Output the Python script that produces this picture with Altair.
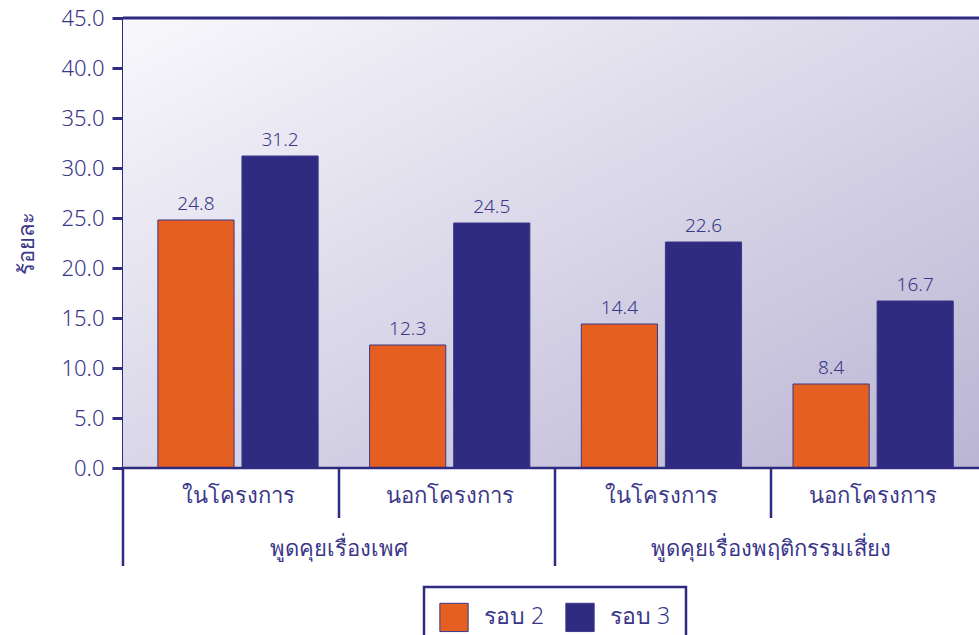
import altair as alt
import pandas as pd

# Survey: share of respondents (%) who talked about each topic, by round
groups = ["พูดคุยเรื่องเพศ", "พูดคุยเรื่องเพศ", "พูดคุยเรื่องพฤติกรรมเสี่ยง", "พูดคุยเรื่องพฤติกรรมเสี่ยง"]
subgroups = ["ในโครงการ", "นอกโครงการ", "ในโครงการ", "นอกโครงการ"]
round2 = [24.8, 12.3, 14.4, 8.4]
round3 = [31.2, 24.5, 22.6, 16.7]
rounds = ["รอบ 2", "รอบ 3"]

NAVY = "#2f2b81"
TEXT = "#3a3789"
ORANGE = "#e55f20"
FONT = "Noto Sans"
WEIGHT = 300
W, H = 856, 450

keys = [f"{g}|{s}" for g, s in zip(groups, subgroups)]
rows = []
for k, g, s, a, b in zip(keys, groups, subgroups, round2, round3):
    rows.append({"key": k, "group": g, "sub": s, "round": rounds[0], "value": a})
    rows.append({"key": k, "group": g, "sub": s, "round": rounds[1], "value": b})
bars_df = pd.DataFrame(rows)
cats_df = pd.DataFrame({"key": keys, "group": groups, "sub": subgroups,
                        "idx": list(range(len(keys)))})

# bar bands sit slightly right of the divider grid
bar_scale = alt.Scale(domain=keys, paddingInner=0, paddingOuter=0.0216, align=1)
bar_x = alt.X("key:N", scale=bar_scale, axis=None)
off_scale = alt.Scale(domain=rounds, paddingInner=0.094, paddingOuter=0.306)
div_scale = alt.Scale(domain=keys, paddingInner=0, paddingOuter=0, range=[0, 864])
y_scale = alt.Scale(domain=[0, 45], nice=False)

# gradient panel background
background = alt.Chart(alt.Data(values=[{}])).mark_rect(
    fill=alt.LinearGradient(
        gradient="linear", x1=0, y1=0, x2=1, y2=1,
        stops=[alt.GradientStop(offset=0, color="#f8f8fc"),
               alt.GradientStop(offset=1, color="#bab5d4")],
    )
).encode(x=alt.value(0), x2=alt.value(W), y=alt.value(0), y2=alt.value(H))

bars = alt.Chart(bars_df).mark_bar(stroke=TEXT, strokeWidth=1).encode(
    x=bar_x,
    xOffset=alt.XOffset("round:N", scale=off_scale),
    y=alt.Y("value:Q", scale=y_scale,
            axis=alt.Axis(values=[i * 5 for i in range(10)], format=".1f", title="ร้อยละ",
                          grid=False, domainColor=NAVY, domainWidth=3,
                          tickColor=NAVY, tickWidth=3, tickSize=11,
                          labelFontSize=22, labelColor=TEXT, labelFont=FONT,
                          labelFontWeight=WEIGHT, labelPadding=8,
                          titleFontSize=22, titleColor=TEXT, titleFont=FONT,
                          titleFontWeight="normal", titlePadding=22)),
    color=alt.Color("round:N", scale=alt.Scale(domain=rounds, range=[ORANGE, NAVY]),
                    legend=alt.Legend(title=None, orient="none", legendX=301, legendY=569,
                                      direction="horizontal", strokeColor=NAVY, fillColor="white",
                                      padding=15, symbolType="square", symbolSize=800,
                                      symbolStrokeColor=TEXT, symbolStrokeWidth=1,
                                      labelFontSize=23, labelColor=TEXT, labelFont=FONT,
                                      labelFontWeight=WEIGHT,
                                      labelOffset=15, columnPadding=18)),
)

values = alt.Chart(bars_df).mark_text(dy=-16, fontSize=19, color=TEXT, font=FONT,
                                      fontWeight=WEIGHT).encode(
    x=bar_x,
    xOffset=alt.XOffset("round:N", scale=off_scale),
    y=alt.Y("value:Q", scale=y_scale),
    text=alt.Text("value:Q", format=".1f"),
)

sub_labels = alt.Chart(cats_df).mark_text(fontSize=22, color=TEXT, font=FONT, fontWeight=WEIGHT,
                                          baseline="middle").encode(
    x=bar_x, y=alt.value(H + 28), text="sub:N")

top_line = alt.Chart(alt.Data(values=[{}])).mark_rule(color=NAVY, strokeWidth=3).encode(
    x=alt.value(0), x2=alt.value(W), y=alt.value(0))
bottom_line = alt.Chart(alt.Data(values=[{}])).mark_rule(color=NAVY, strokeWidth=2.5).encode(
    x=alt.value(0), x2=alt.value(W), y=alt.value(H))

# dividers under the axis: long ones start each topic, short ones split sub-groups
long_div = alt.Chart(cats_df).transform_filter("datum.idx % 2 == 0").mark_rule(
    color=NAVY, strokeWidth=2.5).encode(
    x=alt.X("key:N", scale=div_scale, axis=None, bandPosition=0),
    y=alt.value(H), y2=alt.value(H + 98))
short_div = alt.Chart(cats_df).transform_filter("datum.idx % 2 == 1").mark_rule(
    color=NAVY, strokeWidth=2.5).encode(
    x=alt.X("key:N", scale=div_scale, axis=None, bandPosition=0),
    y=alt.value(H), y2=alt.value(H + 50))
group_labels = alt.Chart(cats_df).transform_filter("datum.idx % 2 == 0").mark_text(
    fontSize=22, color=TEXT, font=FONT, fontWeight=WEIGHT, baseline="middle").encode(
    x=alt.X("key:N", scale=div_scale, axis=None, bandPosition=1),
    y=alt.value(H + 81), text="group:N")

plot_layers = alt.layer(background, bars, values, sub_labels, top_line, bottom_line)
divider_layers = alt.layer(long_div, short_div, group_labels)

chart = alt.layer(plot_layers, divider_layers).resolve_scale(x="independent").properties(
    width=W, height=H,
    autosize=alt.AutoSizeParams(type="none"),
    padding={"left": 123, "top": 18, "right": 0, "bottom": 167},
).configure_view(stroke=None).configure_legend(strokeWidth=2.5)

chart.save("out.html", embed_options={"renderer": "svg", "actions": False})
